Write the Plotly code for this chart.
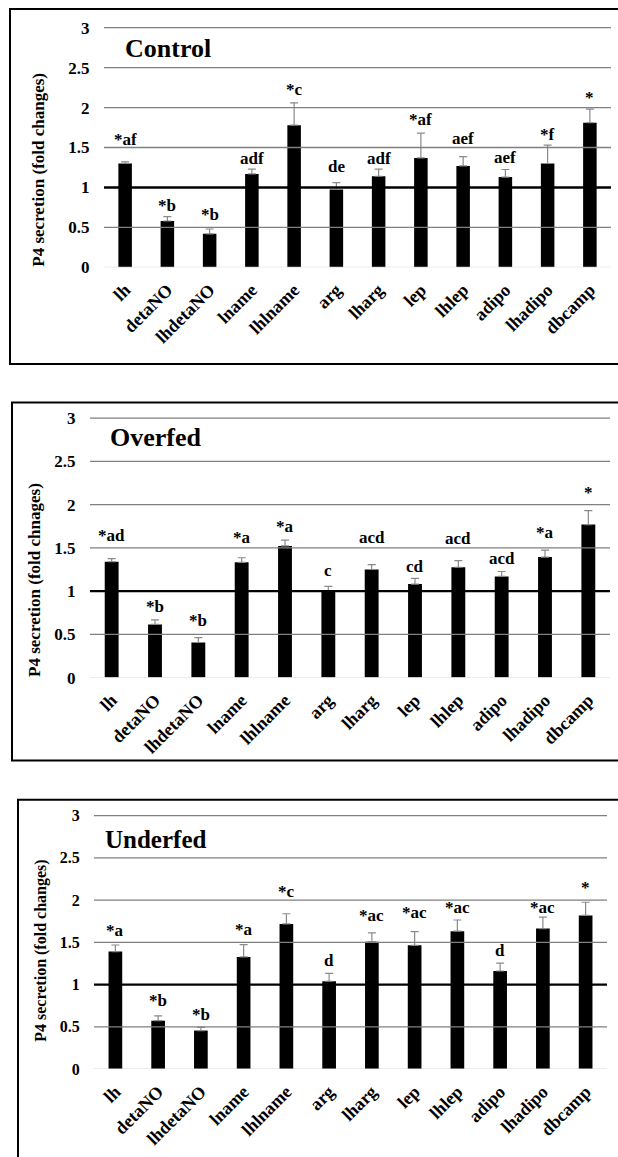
import plotly.graph_objects as go

categories = ["lh", "detaNO", "lhdetaNO", "lname", "lhlname", "arg", "lharg",
              "lep", "lhlep", "adipo", "lhadipo", "dbcamp"]

control_mean = [1.30, 0.58, 0.42, 1.17, 1.78, 0.975, 1.14, 1.37, 1.27, 1.13, 1.30, 1.81]
control_err = [0.02, 0.055, 0.06, 0.06, 0.28, 0.085, 0.09, 0.31, 0.115, 0.095, 0.23, 0.17]
control_sig = ["*af", "*b", "*b", "adf", "*c", "de", "adf", "*af", "aef", "aef", "*f", "*"]
control_sig_y = [1.60, 0.78, 0.66, 1.365, 2.23, 1.26, 1.365, 1.85, 1.61, 1.37, 1.66, 2.12]

overfed_mean = [1.34, 0.615, 0.406, 1.333, 1.523, 1.006, 1.25, 1.082, 1.276, 1.17, 1.394, 1.77]
overfed_err = [0.035, 0.053, 0.057, 0.053, 0.067, 0.05, 0.056, 0.065, 0.076, 0.057, 0.08, 0.16]
overfed_sig = ["*ad", "*b", "*b", "*a", "*a", "c", "acd", "cd", "acd", "acd", "*a", "*"]
overfed_sig_y = [1.645, 0.817, 0.657, 1.625, 1.747, 1.234, 1.625, 1.284, 1.614, 1.379, 1.682, 2.146]

underfed_mean = [1.391, 0.573, 0.456, 1.328, 1.718, 1.04, 1.508, 1.465, 1.632, 1.161, 1.663, 1.819]
underfed_err = [0.078, 0.058, 0.039, 0.145, 0.121, 0.094, 0.105, 0.163, 0.133, 0.093, 0.137, 0.156]
underfed_sig = ["*a", "*b", "*b", "*a", "*c", "d", "*ac", "*ac", "*ac", "d", "*ac", "*"]
underfed_sig_y = [1.636, 0.806, 0.643, 1.656, 2.104, 1.286, 1.823, 1.85, 1.909, 1.402, 1.917, 2.15]

panel_titles = ["Control", "Overfed", "Underfed"]
y_titles = ["P4 secretion (fold changes)", "P4 secretion (fold chnages)", "P4 secretion (fold changes)"]
y_ticks = [0, 0.5, 1, 1.5, 2, 2.5, 3]
y_ticktext = ["0", "0.5", "1", "1.5", "2", "2.5", "3"]

W, H = 618, 1157
SERIF = "Liberation Serif"
YMAX = 3.04
XR = [-0.5, len(categories) - 0.5]
idx = list(range(len(categories)))


def px(x):
    return x / W


def py(y):
    return 1 - y / H


def bold(t):
    return "<b>" + t + "</b>"


panels = [
    dict(mean=control_mean, err=control_err, sig=control_sig, sig_y=control_sig_y,
         xd=(104, 611), y0=265, y3=22, border=(10, 3, 640, 363),
         title_xy=(123, 43), title_size=26, ytitle_xy=(39, 166), ytitle_size=17, tick_size=17),
    dict(mean=overfed_mean, err=overfed_err, sig=overfed_sig, sig_y=overfed_sig_y,
         xd=(90, 610), y0=681, y3=418, border=(12, 402, 640, 765),
         title_xy=(108, 438), title_size=26, ytitle_xy=(35, 582), ytitle_size=17, tick_size=17),
    dict(mean=underfed_mean, err=underfed_err, sig=underfed_sig, sig_y=underfed_sig_y,
         xd=(94, 607), y0=1078, y3=821, border=(18, 805, 640, 1250),
         title_xy=(103, 845), title_size=25, ytitle_xy=(41, 958), ytitle_size=16, tick_size=16),
]

fig = go.Figure()
annotations = []
shapes = []

for i, p in enumerate(panels):
    n = i + 1
    xa = "x" if n == 1 else f"x{n}"
    ya = "y" if n == 1 else f"y{n}"
    ytop = p["y0"] - (p["y0"] - p["y3"]) * YMAX / 3.0
    # gridlines as line traces drawn before the bars
    for t in y_ticks:
        if t == 1:
            continue
        col = "#d9d9d9" if t == 0 else "#808080"
        fig.add_trace(go.Scatter(x=XR, y=[t, t], mode="lines", xaxis=xa, yaxis=ya,
                                 line=dict(color=col, width=1.3), hoverinfo="skip",
                                 showlegend=False, cliponaxis=False))
    fig.add_trace(go.Bar(
        x=idx, y=p["mean"], xaxis=xa, yaxis=ya, width=0.32,
        marker=dict(color="black", line=dict(width=0)),
        error_y=dict(type="data", symmetric=False, array=p["err"],
                     arrayminus=[0] * len(categories),
                     color="#8a8a8a", thickness=1.2, width=4),
        showlegend=False,
    ))
    xkey = "xaxis" if n == 1 else f"xaxis{n}"
    ykey = "yaxis" if n == 1 else f"yaxis{n}"
    fig.update_layout(**{
        xkey: dict(domain=[px(p["xd"][0]), px(p["xd"][1])], anchor=ya, range=XR,
                   tickangle=-45, showgrid=False, showline=False,
                   ticks="outside", ticklen=4, tickcolor="rgba(0,0,0,0)", zeroline=False,
                   tickvals=idx, ticktext=[bold(c) for c in categories],
                   tickfont=dict(family=SERIF, size=18, color="black")),
        ykey: dict(domain=[py(p["y0"]), py(ytop)], anchor=xa,
                   range=[0, YMAX], tickvals=y_ticks, ticktext=[bold(t) for t in y_ticktext],
                   showgrid=False, zeroline=False, showline=False,
                   ticks="outside", ticklen=10, tickcolor="rgba(0,0,0,0)",
                   tickfont=dict(family=SERIF, size=p["tick_size"], color="black")),
    })
    shapes.append(dict(type="line", xref=f"{xa} domain", yref=ya, x0=0, x1=1, y0=1, y1=1,
                       line=dict(color="black", width=2.4), layer="above"))
    for k, s, sy in zip(idx, p["sig"], p["sig_y"]):
        annotations.append(dict(x=k, y=sy, xref=xa, yref=ya, text=bold(s), showarrow=False,
                                font=dict(family=SERIF, size=17, color="black"),
                                xanchor="center", yanchor="middle"))
    annotations.append(dict(x=px(p["title_xy"][0]), y=py(p["title_xy"][1]), xref="paper", yref="paper",
                            text=bold(panel_titles[i]), showarrow=False, xanchor="left", yanchor="middle",
                            font=dict(family=SERIF, size=p["title_size"], color="black")))
    annotations.append(dict(x=px(p["ytitle_xy"][0]), y=py(p["ytitle_xy"][1]), xref="paper", yref="paper",
                            text=bold(y_titles[i]), showarrow=False, textangle=-90,
                            xanchor="center", yanchor="middle",
                            font=dict(family=SERIF, size=p["ytitle_size"], color="black")))
    bx0, by0, bx1, by1 = p["border"]
    shapes.append(dict(type="rect", xref="paper", yref="paper",
                       x0=px(bx0), x1=px(bx1), y0=py(by1), y1=py(by0),
                       line=dict(color="black", width=2), fillcolor="rgba(0,0,0,0)"))

fig.update_layout(width=W, height=H, margin=dict(l=0, r=0, t=0, b=0),
                  paper_bgcolor="white", plot_bgcolor="white",
                  annotations=annotations, shapes=shapes)

fig.write_html("out.html", config={"displayModeBar": False},
               post_script="document.body.style.margin='0';document.body.style.overflow='hidden';")
